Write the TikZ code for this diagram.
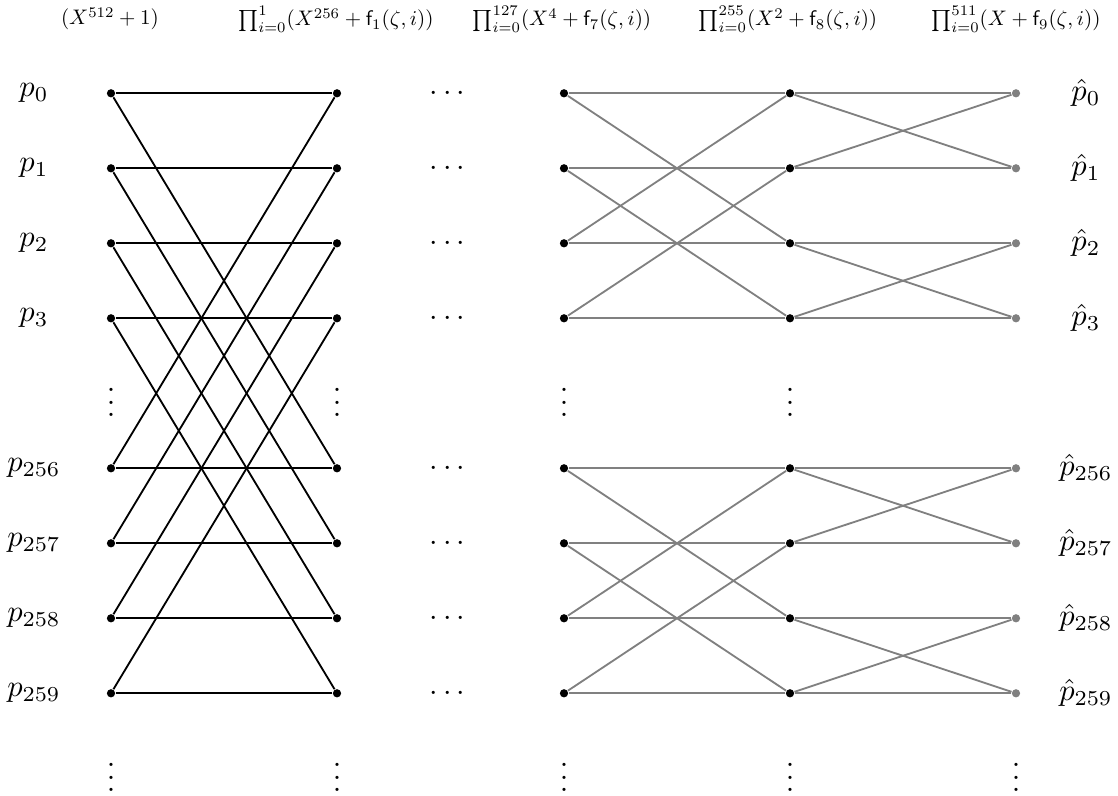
\documentclass[tikz,border=0pt]{standalone}
\usepackage{amsmath}
\begin{document}
\begin{tikzpicture}[x=0.328pt,y=-0.328pt,
  blk/.style={semithick,black},
  gry/.style={semithick,gray},
  dotb/.style={circle,fill=black,inner sep=0pt,minimum size=2.7pt},
  dotg/.style={circle,fill=gray,inner sep=0pt,minimum size=2.7pt},
  lab/.style={scale=0.69,transform shape,inner sep=0pt},
  rowlab/.style={}]
\useasboundingbox (0,0) rectangle (1118,796);
% column headers
\node[lab] (h0) at (110,19) {$(X^{512}+1)$};
\node[lab] (h1) at (336,19) {$\prod_{i=0}^{1}(X^{256}+\mathsf{f}_1(\zeta,i))$};
\node[lab] (h2) at (562,19) {$\prod_{i=0}^{127}(X^{4}+\mathsf{f}_7(\zeta,i))$};
\node[lab] (h3) at (788,19) {$\prod_{i=0}^{255}(X^{2}+\mathsf{f}_8(\zeta,i))$};
\node[lab] (h4) at (1016,19) {$\prod_{i=0}^{511}(X+\mathsf{f}_9(\zeta,i))$};
% dots (nodes)
\foreach \c/\x in {0/111,1/337,2/564,3/790}
  \foreach \r in {0,1,2,3,5,6,7,8}
    \node[dotb] (n\c-\r) at (\x,{93.3+75*\r}) {};
\foreach \r in {0,1,2,3,5,6,7,8}
  \node[dotg] (n4-\r) at (1016,{93.3+75*\r}) {};
% row labels
\foreach \r/\i in {0/0,1/1,2/2,3/3,5/256,6/257,7/258,8/259}{
  \node[rowlab] (p\r) at (34,{93.3+75*\r}) {$p_{\i}$};
  \node[rowlab] (q\r) at (1086,{93.3+75*\r}) {$\hat{p}_{\i}$};
  \node (c\r) at (450,{93.3+75*\r}) {$\cdots$};
}
% vertical dots
\foreach \x [count=\k] in {111,337,564,790}
  \node[inner sep=0pt] (vm\k) at (\x,393.3) {$\vdots$};
\foreach \x [count=\k] in {111,337,564,790,1016}
  \node[inner sep=0pt] (vb\k) at (\x,768.3) {$\vdots$};
% black butterfly: distance 256
\foreach \r in {0,1,2,3}{
  \pgfmathtruncatemacro{\s}{\r+5}
  \draw[blk] (n0-\r) -- (n1-\r);
  \draw[blk] (n0-\s) -- (n1-\s);
  \draw[blk] (n0-\r) -- (n1-\s);
  \draw[blk] (n0-\s) -- (n1-\r);
}
% gray butterflies: distance 2 and 1
\foreach \b in {0,5}{
  \foreach \o in {0,1}{
    \pgfmathtruncatemacro{\a}{\b+\o}
    \pgfmathtruncatemacro{\d}{\b+\o+2}
    \draw[gry] (n2-\a) -- (n3-\a);
    \draw[gry] (n2-\d) -- (n3-\d);
    \draw[gry] (n2-\a) -- (n3-\d);
    \draw[gry] (n2-\d) -- (n3-\a);
  }
  \foreach \o in {0,2}{
    \pgfmathtruncatemacro{\a}{\b+\o}
    \pgfmathtruncatemacro{\d}{\b+\o+1}
    \draw[gry] (n3-\a) -- (n4-\a);
    \draw[gry] (n3-\d) -- (n4-\d);
    \draw[gry] (n3-\a) -- (n4-\d);
    \draw[gry] (n3-\d) -- (n4-\a);
  }
}
\end{tikzpicture}
\end{document}
